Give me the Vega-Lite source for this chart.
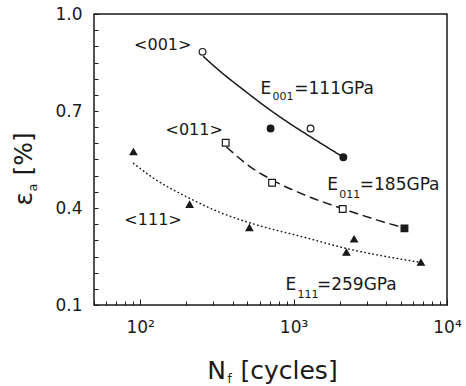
{
  "$schema": "https://vega.github.io/schema/vega-lite/v6.json",
  "autosize": "none",
  "padding": {"left": 94, "top": 14, "right": 19, "bottom": 81},
  "width": 353,
  "height": 291,
  "background": "white",
  "config": {
    "view": {"stroke": "#1a1a1a", "strokeWidth": 1.5},
    "font": "DejaVu Sans",
    "axis": {"grid": false, "domain": false, "labelFont": "DejaVu Sans", "titleFont": "DejaVu Sans", "labelColor": "#1a1a1a", "titleColor": "#1a1a1a", "tickColor": "#1a1a1a", "titleFontWeight": "normal", "labelFlush": false, "labelOverlap": false}
  },
  "datasets": {
    "curves": [
      {"series": "<001>", "N": 259, "eps": 0.868},
      {"series": "<001>", "N": 341, "eps": 0.818},
      {"series": "<001>", "N": 461, "eps": 0.769},
      {"series": "<001>", "N": 708, "eps": 0.702},
      {"series": "<001>", "N": 932, "eps": 0.663},
      {"series": "<001>", "N": 1291, "eps": 0.620},
      {"series": "<001>", "N": 2080, "eps": 0.559},
      {"series": "<011>", "N": 367, "eps": 0.588},
      {"series": "<011>", "N": 520, "eps": 0.528},
      {"series": "<011>", "N": 724, "eps": 0.487},
      {"series": "<011>", "N": 1259, "eps": 0.435},
      {"series": "<011>", "N": 2080, "eps": 0.398},
      {"series": "<011>", "N": 3434, "eps": 0.364},
      {"series": "<011>", "N": 5200, "eps": 0.339},
      {"series": "<111>", "N": 90.4, "eps": 0.538},
      {"series": "<111>", "N": 119, "eps": 0.496},
      {"series": "<111>", "N": 212, "eps": 0.429},
      {"series": "<111>", "N": 325, "eps": 0.388},
      {"series": "<111>", "N": 536, "eps": 0.352},
      {"series": "<111>", "N": 1138, "eps": 0.311},
      {"series": "<111>", "N": 2200, "eps": 0.275},
      {"series": "<111>", "N": 6700, "eps": 0.232}
    ],
    "points": [
      {"series": "<001>", "N": 255, "eps": 0.883, "state": "open"},
      {"series": "<001>", "N": 708, "eps": 0.646, "state": "filled"},
      {"series": "<001>", "N": 1290, "eps": 0.646, "state": "open"},
      {"series": "<001>", "N": 2110, "eps": 0.557, "state": "filled"},
      {"series": "<011>", "N": 361, "eps": 0.602, "state": "open"},
      {"series": "<011>", "N": 724, "eps": 0.478, "state": "open"},
      {"series": "<011>", "N": 2090, "eps": 0.397, "state": "open"},
      {"series": "<011>", "N": 5280, "eps": 0.337, "state": "filled"},
      {"series": "<111>", "N": 90.4, "eps": 0.574, "state": "filled"},
      {"series": "<111>", "N": 210, "eps": 0.411, "state": "filled"},
      {"series": "<111>", "N": 515, "eps": 0.339, "state": "filled"},
      {"series": "<111>", "N": 2480, "eps": 0.304, "state": "filled"},
      {"series": "<111>", "N": 2210, "eps": 0.263, "state": "filled"},
      {"series": "<111>", "N": 6760, "eps": 0.232, "state": "filled"}
    ],
    "orientLabels": [
      {"label": "<001>", "N": 140.3, "eps": 0.8885},
      {"label": "<011>", "N": 225, "eps": 0.6254},
      {"label": "<111>", "N": 121.3, "eps": 0.3467}
    ],
    "modMain": [
      {"label": "E", "N": 608, "eps": 0.754},
      {"label": "=111GPa", "N": 1010, "eps": 0.754},
      {"label": "E", "N": 1658, "eps": 0.455},
      {"label": "=185GPa", "N": 2700, "eps": 0.455},
      {"label": "E", "N": 887, "eps": 0.146},
      {"label": "=259GPa", "N": 1420, "eps": 0.146}
    ],
    "modSub": [
      {"label": "001", "N": 729, "eps": 0.735},
      {"label": "011", "N": 1986, "eps": 0.432},
      {"label": "111", "N": 1062, "eps": 0.122}
    ]
  },
  "resolve": {"axis": {"x": "independent", "y": "independent"}},
  "layer": [
    {
      "data": {"name": "curves"},
      "mark": {"type": "line", "interpolate": "monotone", "color": "#1a1a1a", "strokeWidth": 1.5, "strokeCap": "round"},
      "encoding": {
        "x": {"field": "N", "type": "quantitative",
          "scale": {"type": "log", "domain": [50, 10000], "nice": false},
          "axis": {"orient": "bottom", "values": [100, 1000, 10000], "tickSize": -6, "tickWidth": 1, "labelPadding": 20, "labelFontSize": 17,
            "labelExpr": "datum.value == 100 ? '10²' : datum.value == 1000 ? '10³' : '10⁴'",
            "title": "N", "titleFontSize": 25, "titleX": 112.7, "titleY": 73.3, "titleAlign": "left", "titleBaseline": "alphabetic", "titleAngle": 0}},
        "y": {"field": "eps", "type": "quantitative",
          "scale": {"domain": [0.1, 1.0], "nice": false, "zero": false},
          "axis": {"orient": "left",
            "values": [0.1, 0.15, 0.2, 0.25, 0.3, 0.35, 0.4, 0.45, 0.5, 0.55, 0.6, 0.65, 0.7, 0.75, 0.8, 0.85, 0.9, 0.95, 1.0],
            "labelExpr": "(abs(datum.value-0.1)<0.001 || abs(datum.value-0.4)<0.001 || abs(datum.value-0.7)<0.001 || abs(datum.value-1.0)<0.001) ? format(datum.value, '.1f') : ''",
            "tickSize": -4, "tickWidth": 1, "labelPadding": 16, "labelFontSize": 17,
            "title": "ε", "titleFontSize": 25, "titleX": -62.3, "titleY": 191, "titleAlign": "left", "titleBaseline": "alphabetic", "titleAngle": -90}},
        "strokeDash": {"field": "series", "type": "nominal",
          "scale": {"domain": ["<001>", "<011>", "<111>"], "range": [[1, 0], [8, 6], [0.5, 3.6]]},
          "legend": null}
      }
    },
    {
      "data": {"name": "points"},
      "mark": {"type": "point", "stroke": "#1a1a1a", "strokeWidth": 1.2, "opacity": 1},
      "encoding": {
        "x": {"field": "N", "type": "quantitative",
          "axis": {"orient": "bottom", "values": [50, 60, 70, 80, 90, 200, 300, 400, 500, 600, 700, 800, 900, 2000, 3000, 4000, 5000, 6000, 7000, 8000, 9000],
            "labels": false, "tickSize": -4, "tickWidth": 1,
            "title": "f", "titleFontSize": 12, "titleX": 133, "titleY": 77, "titleAlign": "left", "titleBaseline": "alphabetic", "titleAngle": 0}},
        "y": {"field": "eps", "type": "quantitative",
          "axis": {"orient": "left", "labels": false, "ticks": false,
            "title": "a", "titleFontSize": 13, "titleX": -57.3, "titleY": 177, "titleAlign": "left", "titleBaseline": "alphabetic", "titleAngle": -90}},
        "shape": {"field": "series", "type": "nominal",
          "scale": {"domain": ["<001>", "<011>", "<111>"], "range": ["circle", "square", "triangle-up"]}, "legend": null},
        "size": {"field": "series", "type": "nominal",
          "scale": {"domain": ["<001>", "<011>", "<111>"], "range": [45, 45, 60]}, "legend": null},
        "fill": {"field": "state", "type": "nominal",
          "scale": {"domain": ["filled", "open"], "range": ["#1a1a1a", "white"]}, "legend": null}
      }
    },
    {
      "data": {"name": "orientLabels"},
      "mark": {"type": "text", "font": "DejaVu Sans", "fontSize": 16, "color": "#1a1a1a", "align": "center", "baseline": "alphabetic"},
      "encoding": {
        "x": {"field": "N", "type": "quantitative",
          "axis": {"orient": "bottom", "labels": false, "ticks": false,
            "title": "[cycles]", "titleFontSize": 25, "titleX": 146, "titleY": 73, "titleAlign": "left", "titleBaseline": "alphabetic", "titleAngle": 0}},
        "y": {"field": "eps", "type": "quantitative",
          "axis": {"orient": "left", "labels": false, "ticks": false,
            "title": "[%]", "titleFontSize": 25, "titleX": -62.3, "titleY": 161, "titleAlign": "left", "titleBaseline": "alphabetic", "titleAngle": -90}},
        "text": {"field": "label"}
      }
    },
    {
      "data": {"name": "modMain"},
      "mark": {"type": "text", "font": "DejaVu Sans", "fontSize": 17, "color": "#1a1a1a", "align": "left", "baseline": "alphabetic"},
      "encoding": {
        "x": {"field": "N", "type": "quantitative", "axis": null},
        "y": {"field": "eps", "type": "quantitative", "axis": null},
        "text": {"field": "label"}
      }
    },
    {
      "data": {"name": "modSub"},
      "mark": {"type": "text", "font": "DejaVu Sans", "fontSize": 11, "color": "#1a1a1a", "align": "left", "baseline": "alphabetic"},
      "encoding": {
        "x": {"field": "N", "type": "quantitative", "axis": null},
        "y": {"field": "eps", "type": "quantitative", "axis": null},
        "text": {"field": "label"}
      }
    }
  ]
}
